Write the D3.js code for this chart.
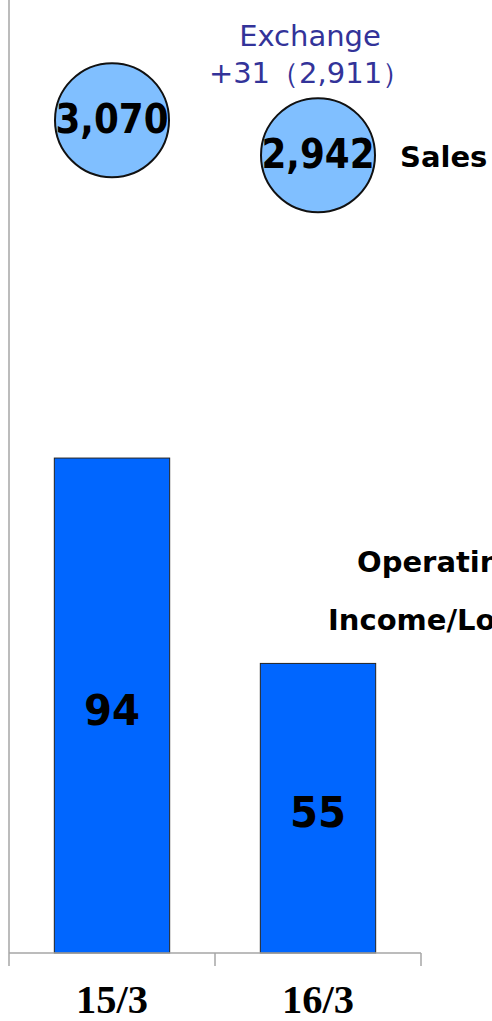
<!DOCTYPE html>
<html>
<head>
<meta charset="utf-8">
<script src="https://cdn.jsdelivr.net/npm/d3@7"></script>
<style>
  body{margin:0;background:#fff;}
  svg{display:block;}
</style>
</head>
<body>
<svg></svg>
<script>
// data
var periods = ["15/3", "16/3"];
var sales = [3070, 2942];
var salesLabels = ["3,070", "2,942"];
var operatingIncome = [94, 55];
var exchangeNote = ["Exchange", "+31（2,911）"];

var svgWidth = 492, svgHeight = 1021;
var svg = d3.select('svg')
  .attr('width', svgWidth)
  .attr('height', svgHeight);

var baseY = 953, leftX = 9, rightX = 421;

var x = d3.scaleBand()
  .domain(periods)
  .range([leftX, rightX])
  .paddingInner(0)
  .paddingOuter(0);

var y = d3.scaleLinear()
  .domain([0, 181])
  .range([baseY, 0]);

// sales bubbles on their own scale
var ySales = d3.scaleLinear()
  .domain([2500, 3500])
  .range([276, 2.6]);

var barW = x.bandwidth() * 0.56;

// bars
svg.selectAll('.bar')
  .data(operatingIncome)
  .enter().append('rect')
  .attr('class', 'bar')
  .attr('x', function(d, i) { return x(periods[i]) + (x.bandwidth() - barW) / 2; })
  .attr('y', function(d) { return y(d); })
  .attr('width', barW)
  .attr('height', function(d) { return baseY - y(d); })
  .attr('fill', '#0066FF')
  .attr('stroke', '#222')
  .attr('stroke-width', 1);

svg.selectAll('.barlabel')
  .data(operatingIncome)
  .enter().append('text')
  .attr('x', function(d, i) { return x(periods[i]) + x.bandwidth() / 2; })
  .attr('y', function(d) { return (y(d) + baseY) / 2 + 19; })
  .attr('text-anchor', 'middle')
  .style('font', 'bold 42px "DejaVu Sans", Verdana, sans-serif')
  .attr('textLength', 56)
  .attr('lengthAdjust', 'spacingAndGlyphs')
  .attr('fill', '#000')
  .text(function(d) { return d; });

// axes
svg.append('line')
  .attr('x1', leftX).attr('x2', leftX)
  .attr('y1', 0).attr('y2', baseY)
  .attr('stroke', '#A6A6A6').attr('stroke-width', 1.5);

svg.append('line')
  .attr('x1', leftX).attr('x2', rightX)
  .attr('y1', baseY).attr('y2', baseY)
  .attr('stroke', '#A6A6A6').attr('stroke-width', 1.5);

var tickPos = periods.map(function(p) { return x(p); }).concat([x(periods[periods.length - 1]) + x.bandwidth()]);
svg.selectAll('.tick')
  .data(tickPos)
  .enter().append('line')
  .attr('x1', function(d) { return d; }).attr('x2', function(d) { return d; })
  .attr('y1', baseY).attr('y2', baseY + 13)
  .attr('stroke', '#A6A6A6').attr('stroke-width', 1.5);

svg.selectAll('.xlabel')
  .data(periods)
  .enter().append('text')
  .attr('x', function(d) { return x(d) + x.bandwidth() / 2; })
  .attr('y', 1013)
  .attr('text-anchor', 'middle')
  .style('font', 'bold 39px "Liberation Serif", "Times New Roman", serif')
  .attr('textLength', 72)
  .attr('lengthAdjust', 'spacingAndGlyphs')
  .attr('fill', '#000')
  .text(function(d) { return d; });

// sales bubbles
svg.selectAll('.bubble')
  .data(sales)
  .enter().append('circle')
  .attr('cx', function(d, i) { return x(periods[i]) + x.bandwidth() / 2; })
  .attr('cy', function(d) { return ySales(d); })
  .attr('r', 57)
  .attr('fill', '#80BFFF')
  .attr('stroke', '#111')
  .attr('stroke-width', 2);

svg.selectAll('.bubblelabel')
  .data(sales)
  .enter().append('text')
  .attr('x', function(d, i) { return x(periods[i]) + x.bandwidth() / 2; })
  .attr('y', function(d) { return ySales(d) + 13; })
  .attr('text-anchor', 'middle')
  .style('font', 'bold 40px "DejaVu Sans", Verdana, sans-serif')
  .attr('textLength', 113)
  .attr('lengthAdjust', 'spacingAndGlyphs')
  .attr('fill', '#000')
  .text(function(d, i) { return salesLabels[i]; });

// labels
svg.append('text')
  .attr('x', 400).attr('y', 167)
  .style('font', 'bold 29px "DejaVu Sans", Verdana, sans-serif')
  .attr('fill', '#000')
  .text('Sales');

svg.selectAll('.exch')
  .data(exchangeNote)
  .enter().append('text')
  .attr('x', 310)
  .attr('y', function(d, i) { return 46 + i * 37; })
  .attr('text-anchor', 'middle')
  .style('font', '29px "DejaVu Sans", Verdana, sans-serif')
  .attr('fill', '#333399')
  .text(function(d) { return d; });

svg.append('text')
  .attr('x', 357).attr('y', 572)
  .style('font', 'bold 29px "DejaVu Sans", Verdana, sans-serif')
  .attr('fill', '#000')
  .text('Operating');

svg.append('text')
  .attr('x', 328).attr('y', 630)
  .style('font', 'bold 29px "DejaVu Sans", Verdana, sans-serif')
  .attr('fill', '#000')
  .text('Income/Loss');
</script>
</body>
</html>
